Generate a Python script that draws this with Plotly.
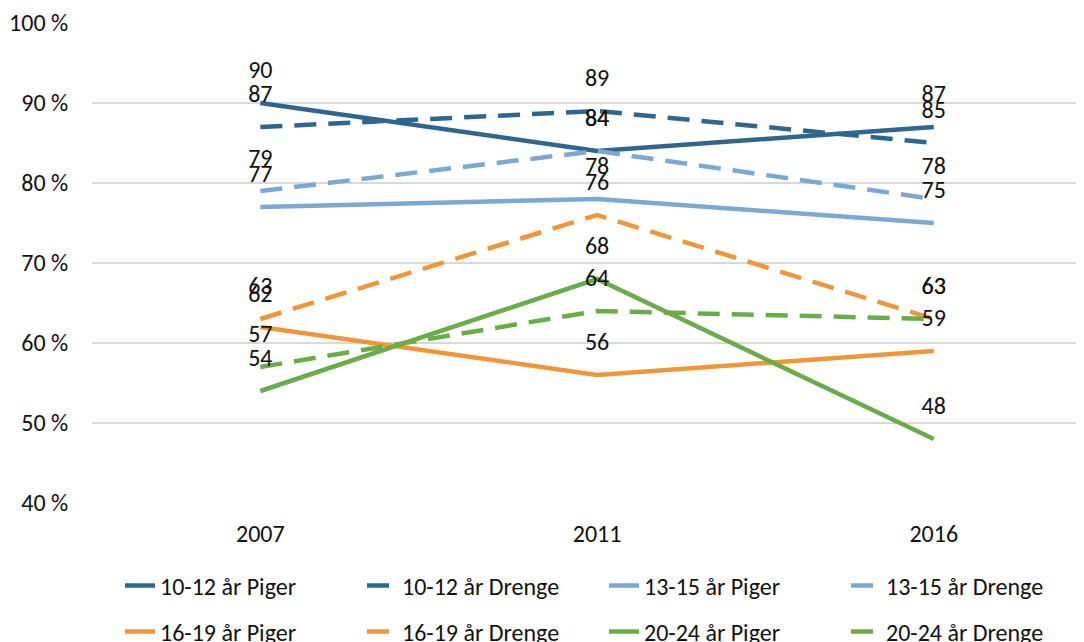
import plotly.graph_objects as go

years = ["2007", "2011", "2016"]
series_names = [
    "10-12 år Piger", "10-12 år Drenge", "13-15 år Piger", "13-15 år Drenge",
    "16-19 år Piger", "16-19 år Drenge", "20-24 år Piger", "20-24 år Drenge",
]
piger_10_12 = [90, 84, 87]
drenge_10_12 = [87, 89, 85]
piger_13_15 = [77, 78, 75]
drenge_13_15 = [79, 84, 78]
piger_16_19 = [62, 56, 59]
drenge_16_19 = [63, 76, 63]
piger_20_24 = [54, 68, 48]
drenge_20_24 = [57, 64, 63]
y_ticks = [40, 50, 60, 70, 80, 90, 100]
y_tick_labels = ["40 %", "50 %", "60 %", "70 %", "80 %", "90 %", "100 %"]

values = [piger_10_12, drenge_10_12, piger_13_15, drenge_13_15,
          piger_16_19, drenge_16_19, piger_20_24, drenge_20_24]
colors = ["#2F6690", "#2F6690", "#7BA7D3", "#7BA7D3",
          "#F0963A", "#F0963A", "#6AAC48", "#6AAC48"]
dashes = ["solid", "22px,12px"] * 4

FONT = "Carlito, Lato, sans-serif"
TXT = "#111111"
FS = 24

fig = go.Figure()
for i, (name, vals) in enumerate(zip(series_names, values)):
    fig.add_trace(go.Scatter(
        x=years, y=vals, name=name, mode="lines",
        line=dict(color=colors[i], width=4.5, dash=dashes[i]),
        legend="legend" if i < 4 else "legend2",
        hoverinfo="skip",
    ))

# data labels: centred block of three lines, number on the top line,
# so the number sits one line height above its point
for vals in values:
    fig.add_trace(go.Scatter(
        x=years, y=vals, mode="text",
        text=[f"{v}<br> <br> " for v in vals], textposition="middle center",
        textfont=dict(size=FS, color=TXT, family=FONT),
        showlegend=False, hoverinfo="skip",
    ))

legend_common = dict(orientation="h", xanchor="left", yanchor="middle",
                     entrywidth=197, entrywidthmode="pixels",
                     font=dict(size=FS, color=TXT, family=FONT),
                     bgcolor="rgba(0,0,0,0)", borderwidth=0)

fig.update_layout(
    width=1084, height=642,
    margin=dict(l=84, r=0, t=15, b=147, autoexpand=False),
    plot_bgcolor="white", paper_bgcolor="white",
    font=dict(family=FONT, size=FS, color=TXT),
    xaxis=dict(type="category", range=[-0.5, 2.47], showgrid=False,
               showline=False, zeroline=False,
               ticks="outside", ticklen=9, tickcolor="rgba(0,0,0,0)",
               tickfont=dict(size=FS, color=TXT, family=FONT)),
    yaxis=dict(range=[40, 100], tickmode="array", tickvals=y_ticks, ticktext=y_tick_labels,
               showgrid=True, gridcolor="#D9D9D9", gridwidth=1.5,
               zeroline=False, showline=False,
               ticks="outside", ticklen=18, tickcolor="rgba(0,0,0,0)",
               tickfont=dict(size=FS, color=TXT, family=FONT)),
    legend=dict(x=0.028, y=(503 - 586) / 480, **legend_common),
    legend2=dict(x=0.028, y=(503 - 632) / 480, **legend_common),
    showlegend=True,
)

fig.write_html("out.html")
